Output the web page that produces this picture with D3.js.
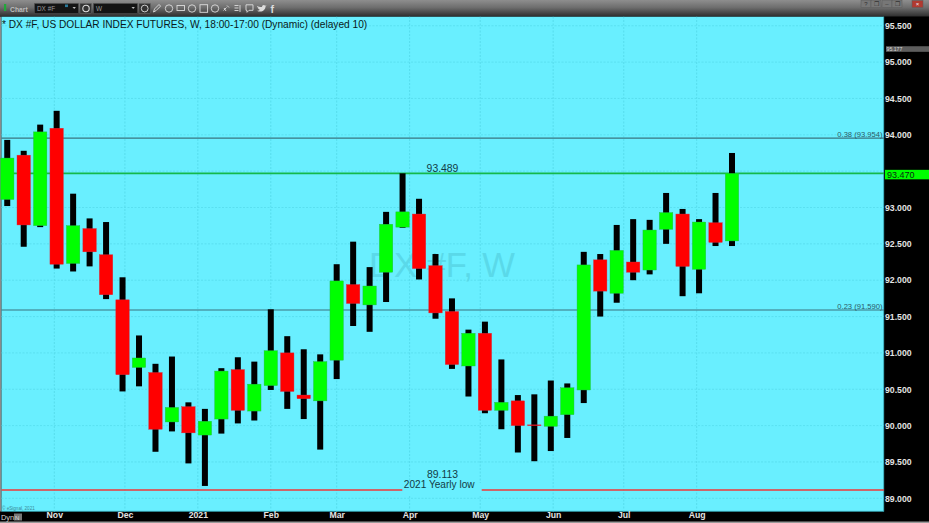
<!DOCTYPE html>
<html><head><meta charset="utf-8">
<script src="https://cdn.jsdelivr.net/npm/d3@7/dist/d3.min.js"></script>
<style>html,body{margin:0;padding:0;background:#000;overflow:hidden}svg{display:block}text{font-family:"Liberation Sans",Arial,sans-serif}</style>
</head><body><svg id="c" width="929" height="523"></svg>
<script>
const weeks=["2020-10-12","2020-10-19","2020-10-26","2020-11-02","2020-11-09","2020-11-16","2020-11-23","2020-11-30","2020-12-07","2020-12-14","2020-12-21","2020-12-28","2021-01-04","2021-01-11","2021-01-18","2021-01-25","2021-02-01","2021-02-08","2021-02-15","2021-02-22","2021-03-01","2021-03-08","2021-03-15","2021-03-22","2021-03-29","2021-04-05","2021-04-12","2021-04-19","2021-04-26","2021-05-03","2021-05-10","2021-05-17","2021-05-24","2021-05-31","2021-06-07","2021-06-14","2021-06-21","2021-06-28","2021-07-05","2021-07-12","2021-07-19","2021-07-26","2021-08-02","2021-08-09","2021-08-16"];
const opens=[93.11,93.72,92.75,94.09,92.23,92.71,92.35,91.73,90.80,90.73,90.05,90.26,89.87,90.09,90.77,90.20,90.55,91.00,90.42,90.34,90.90,91.94,91.66,92.11,92.73,92.91,92.20,91.57,90.82,91.27,90.21,90.34,90.01,89.99,90.15,90.49,92.28,91.82,92.25,92.14,92.70,92.91,92.15,92.79,92.54];
const highs=[93.93,93.78,94.14,94.33,93.19,92.85,92.80,92.04,91.24,90.85,90.95,90.32,90.23,90.79,90.94,90.88,91.60,91.23,91.05,90.98,92.22,92.53,92.18,92.94,93.47,93.12,92.36,91.75,91.32,91.43,90.91,90.42,90.43,90.62,90.58,92.39,92.36,92.76,92.84,92.83,93.20,92.98,92.84,93.20,93.75];
const lows=[93.02,92.46,92.73,92.16,92.12,92.19,91.74,90.47,90.54,89.64,89.92,89.48,89.17,89.89,90.03,90.07,90.49,90.23,90.09,89.67,90.64,91.37,91.29,91.70,92.72,92.01,91.47,90.78,90.40,90.17,89.95,89.63,89.51,89.65,89.83,90.31,91.50,91.69,92.00,92.08,92.50,91.78,91.82,92.47,92.47];
const closes=[93.68,92.76,94.04,92.22,92.75,92.39,91.80,90.70,90.93,89.95,90.25,89.90,90.06,90.75,90.21,90.57,91.03,90.47,90.37,90.88,91.99,91.68,91.92,92.77,92.94,92.16,91.55,90.84,91.27,90.21,90.32,90.00,90.00,90.13,90.52,92.21,91.85,92.41,92.11,92.69,92.93,92.19,92.80,92.52,93.47];
const monthTicks=["2020-11-01","2020-12-01","2021-01-01","2021-02-01","2021-03-01","2021-04-01","2021-05-01","2021-06-01","2021-07-01","2021-08-01"];
const monthLabels=["Nov","Dec","2021","Feb","Mar","Apr","May","Jun","Jul","Aug"];
const priceTicks=[89,89.5,90,90.5,91,91.5,92,92.5,93,93.5,94,94.5,95,95.5];
const hiddenTick=93.5;
const fibLevels=[0.38,0.23];
const fibPrices=[93.954,91.59];
const resistance=93.47, yearHigh=93.489, yearLow=89.113, maxTag=95.177;

const parse=d3.utcParse("%Y-%m-%d");
const svg=d3.select("#c");
const L=1.5,R=884,T=16.5,B=511.5;
const x=d3.scaleUtc().domain([parse("2020-11-01"),parse("2021-08-01")]).range([54.3,696.7]);
const y=d3.scaleLinear().domain([89,95.5]).range([498.3,25.75]);

// frame
const defs=svg.append("defs");
const g=defs.append("linearGradient").attr("id","tb").attr("x1",0).attr("x2",0).attr("y1",0).attr("y2",1);
g.append("stop").attr("offset",0).attr("stop-color","#8e8e8e");
g.append("stop").attr("offset",.45).attr("stop-color","#6e6e6e");
g.append("stop").attr("offset",1).attr("stop-color","#2e2e2e");
svg.append("rect").attr("width",929).attr("height",523).attr("fill","#000");
svg.append("rect").attr("x",0).attr("y",T).attr("width",1.5).attr("height",B-T).attr("fill","#8a8a8a");
svg.append("rect").attr("x",L).attr("y",T).attr("width",R-L).attr("height",B-T).attr("fill","#69efff");
svg.append("rect").attr("x",0).attr("y",521.5).attr("width",929).attr("height",1.5).attr("fill","#9a9a9a");
svg.append("rect").attr("x",R-.6).attr("y",T).attr("width",.8).attr("height",B-T).attr("fill","#2a8a98");
svg.append("rect").attr("x",L).attr("y",B-.6).attr("width",R-L).attr("height",.8).attr("fill","#2a8a98");

// grid
const grid=svg.append("g").attr("stroke","#57dcec").attr("stroke-width",.8);
grid.selectAll(".h").data(priceTicks).join("line").attr("x1",L).attr("x2",R).attr("y1",d=>y(d)).attr("y2",d=>y(d)).attr("stroke-dasharray","2 1.5");
grid.selectAll(".v").data(monthTicks).join("line").attr("x1",d=>x(parse(d))).attr("x2",d=>x(parse(d))).attr("y1",T).attr("y2",B).attr("stroke-dasharray","2 1.5").attr("stroke-width",1);

// watermark
svg.append("text").attr("x",442).attr("y",276.5).attr("text-anchor","middle").attr("font-size",34.6).attr("fill","#5ad9e9").text("DX #F, W");

// level lines
const lines=svg.append("g");
fibPrices.forEach(p=>{
  lines.append("line").attr("x1",L).attr("x2",R).attr("y1",y(p)).attr("y2",y(p)).attr("stroke","#3b7480").attr("stroke-width",1.1);
});
lines.append("line").attr("x1",L).attr("x2",R).attr("y1",y(resistance)).attr("y2",y(resistance)).attr("stroke","#14b84a").attr("stroke-width",1.6);
lines.append("line").attr("x1",L).attr("x2",R).attr("y1",y(yearLow)).attr("y2",y(yearLow)).attr("stroke","#f03838").attr("stroke-width",1.5);

// candles
const bars=svg.append("g");
const wickW=6,bodyW=13.4;
weeks.forEach((w,i)=>{
  const cx=x(parse(w));
  bars.append("rect").attr("x",cx-wickW/2).attr("width",wickW).attr("y",y(highs[i])).attr("height",y(lows[i])-y(highs[i])).attr("fill","#000");
  const up=closes[i]>=opens[i];
  const top=y(Math.max(opens[i],closes[i])),bot=y(Math.min(opens[i],closes[i]));
  bars.append("rect").attr("x",cx-bodyW/2).attr("width",bodyW).attr("y",top).attr("height",Math.max(bot-top,.8)).attr("fill",up?"#00ff00":"#ff0000").attr("stroke",up?"#22b84a":"#d82a40").attr("stroke-width",.4);
});

// label gap in the yearly-low line
svg.append("rect").attr("x",402.3).attr("y",483).attr("width",79.4).attr("height",12).attr("fill","#69efff");

// annotations
const ann=svg.append("g").attr("fill","#123c46");
ann.append("text").attr("x",442.5).attr("y",172).attr("text-anchor","middle").attr("font-size",10.4).text(yearHigh.toFixed(3));
ann.append("text").attr("x",442.5).attr("y",478).attr("text-anchor","middle").attr("font-size",10.4).text(yearLow.toFixed(3));
ann.append("text").attr("x",439.2).attr("y",487.6).attr("text-anchor","middle").attr("font-size",10.1).text("2021 Yearly low");
fibPrices.forEach((p,i)=>{
  ann.append("text").attr("x",882.5).attr("y",y(p)-.8).attr("text-anchor","end").attr("font-size",7.6).attr("fill","#2c5a66").text(fibLevels[i].toFixed(2)+" ("+p.toFixed(3)+")");
});
svg.append("text").attr("x",2).attr("y",27.5).attr("font-size",10.17).attr("fill","#0a1a20").text("* DX #F, US DOLLAR INDEX FUTURES, W, 18:00-17:00 (Dynamic) (delayed 10)");
svg.append("text").attr("x",2).attr("y",510).attr("font-size",4.6).attr("fill","#3a8a98").text("© eSignal, 2021");

// right axis (the 93.500 label sits hidden under the last-price tag)
const yAxis=d3.axisRight(y).tickValues(priceTicks.filter(d=>d!==hiddenTick)).tickSize(0).tickPadding(1).tickFormat(d3.format(".3f"));
const ya=svg.append("g").attr("transform",`translate(${R},0)`).call(yAxis);
ya.select(".domain").remove();
ya.selectAll("text").attr("font-size",8.7).attr("font-weight","bold").attr("fill","#e4e4e4").style("font-family",'"Liberation Sans",Arial,sans-serif');

// max tag
const ty=y(maxTag);
svg.append("rect").attr("x",886).attr("y",ty-3).attr("width",43).attr("height",5.6).attr("fill","#5e5e5e");
svg.append("text").attr("x",886.5).attr("y",ty+1.8).attr("font-size",5.2).attr("fill","#d8d8d8").text(maxTag.toFixed(3));
// last price tag
const ry=y(resistance);
svg.append("rect").attr("x",885).attr("y",ry-3.5).attr("width",44).attr("height",9.5).attr("fill","#00ff00");
svg.append("text").attr("x",887).attr("y",ry+4.6).attr("font-size",9).attr("fill","#0a2a10").text(resistance.toFixed(3));

// bottom axis
const xAxis=d3.axisBottom(x).tickValues(monthTicks.map(parse)).tickSize(0).tickPadding(0).tickFormat((d,i)=>monthLabels[i]);
const xa=svg.append("g").attr("transform",`translate(0,${B+.3})`).call(xAxis);
xa.select(".domain").remove();
xa.selectAll("text").attr("font-size",8.7).attr("font-weight","bold").attr("fill","#e4e4e4").style("font-family",'"Liberation Sans",Arial,sans-serif');
svg.append("text").attr("x",1).attr("y",519.5).attr("font-size",7.4).attr("fill","#d8d8d8").text("Dyn");
svg.append("rect").attr("x",14).attr("y",513.5).attr("width",8).attr("height",7).attr("fill","#777");
svg.append("text").attr("x",15).attr("y",519.5).attr("font-size",6).attr("fill","#ddd").text("N");

// toolbar
const tb=svg.append("g");
tb.append("rect").attr("width",929).attr("height",T).attr("fill","url(#tb)");
tb.append("rect").attr("x",4).attr("y",4).attr("width",2.2).attr("height",7).attr("fill","#22a83a");
tb.append("text").attr("x",10).attr("y",11.5).attr("font-size",6.8).attr("font-weight","bold").attr("fill","#bdbdbd").text("Chart");
tb.append("rect").attr("x",34.5).attr("y",3.5).attr("width",44).attr("height",10).attr("fill","#141414").attr("stroke","#555").attr("stroke-width",.5);
tb.append("text").attr("x",37).attr("y",11).attr("font-size",6.4).attr("fill","#9a9a9a").text("DX #F");
tb.append("rect").attr("x",65).attr("y",4.5).attr("width",3).attr("height",2.6).attr("fill","#2a7a9a");
tb.append("path").attr("d","M72.5 7h3.4l-1.7 2z").attr("fill","#bbb");
tb.append("rect").attr("x",80).attr("y",3.5).attr("width",11.5).attr("height",10).attr("fill","#333").attr("stroke","#666").attr("stroke-width",.5);
tb.append("circle").attr("cx",86).attr("cy",8.5).attr("r",3.2).attr("fill","none").attr("stroke","#ddd").attr("stroke-width",1.1);
tb.append("rect").attr("x",93.5).attr("y",3.5).attr("width",44).attr("height",10).attr("fill","#141414").attr("stroke","#555").attr("stroke-width",.5);
tb.append("text").attr("x",96).attr("y",11).attr("font-size",6.4).attr("fill","#9a9a9a").text("W");
tb.append("path").attr("d","M131.5 7h3.4l-1.7 2z").attr("fill","#bbb");
const icons=svg.append("g").attr("fill","none").attr("stroke","#dcdcdc").attr("stroke-width",.9);
icons.append("rect").attr("x",139).attr("y",3.5).attr("width",11.5).attr("height",10).attr("fill","#333").attr("stroke","#666").attr("stroke-width",.5);
icons.append("circle").attr("cx",144.7).attr("cy",8.5).attr("r",3.4);
icons.append("path").attr("d","M153.5 12l1 -3l4.5 -4.5l1.6 1.6l-4.5 4.5z");
icons.append("circle").attr("cx",169).attr("cy",8.5).attr("r",3.7);
icons.append("rect").attr("x",177).attr("y",5.5).attr("width",7.5).attr("height",5);
icons.append("circle").attr("cx",192).attr("cy",8.5).attr("r",3.7);
icons.append("rect").attr("x",200).attr("y",4.7).attr("width",7.6).attr("height",7.6);
icons.append("circle").attr("cx",215).attr("cy",8.5).attr("r",3.7);
icons.append("path").attr("d","M223.5 10.5l3-3M227 5.5l2 2M224 8l2 3");
icons.append("path").attr("d","M234.5 5.5h4M234.5 8h4M234.5 10.5h4M240 5v7");
icons.append("path").attr("d","M246 4.8h7v5.5h-4l-2 2v-2h-1z");
tb.append("path").attr("d","M257 6c2 1 3.5 1.2 5 1c0-2 2-2.6 3.2-1.3l1.3-.5c-.3.6-.6 1-1 1.3c0 3.5-4 6.6-8.6 4.2c1.3 0 2.2-.3 3-1c-1.2-.2-1.8-.8-2-1.4c.4 0 .7 0 1-.1c-1.2-.4-1.8-1.2-1.9-2.2z").attr("fill","#dcdcdc");
tb.append("text").attr("x",270.5).attr("y",12.5).attr("font-size",10.5).attr("font-weight","bold").attr("fill","#dcdcdc").text("f");
const wb=[[871,"?"],[881,"❐"],[892,"–"],[902,"❐"]];
wb.forEach(d=>{
  tb.append("rect").attr("x",d[0]-10).attr("y",.5).attr("width",10).attr("height",7).attr("fill","#777").attr("stroke","#5a5a5a").attr("stroke-width",.5);
  tb.append("text").attr("x",d[0]-5).attr("y",6).attr("text-anchor","middle").attr("font-size",6).attr("fill","#333").text(d[1]);
});
tb.append("rect").attr("x",912).attr("y",.5).attr("width",11).attr("height",7).attr("fill","#b03a30").attr("stroke","#5a5a5a").attr("stroke-width",.5);
tb.append("text").attr("x",917.5).attr("y",6).attr("text-anchor","middle").attr("font-size",6).attr("fill","#eee").text("×");
</script></body></html>
